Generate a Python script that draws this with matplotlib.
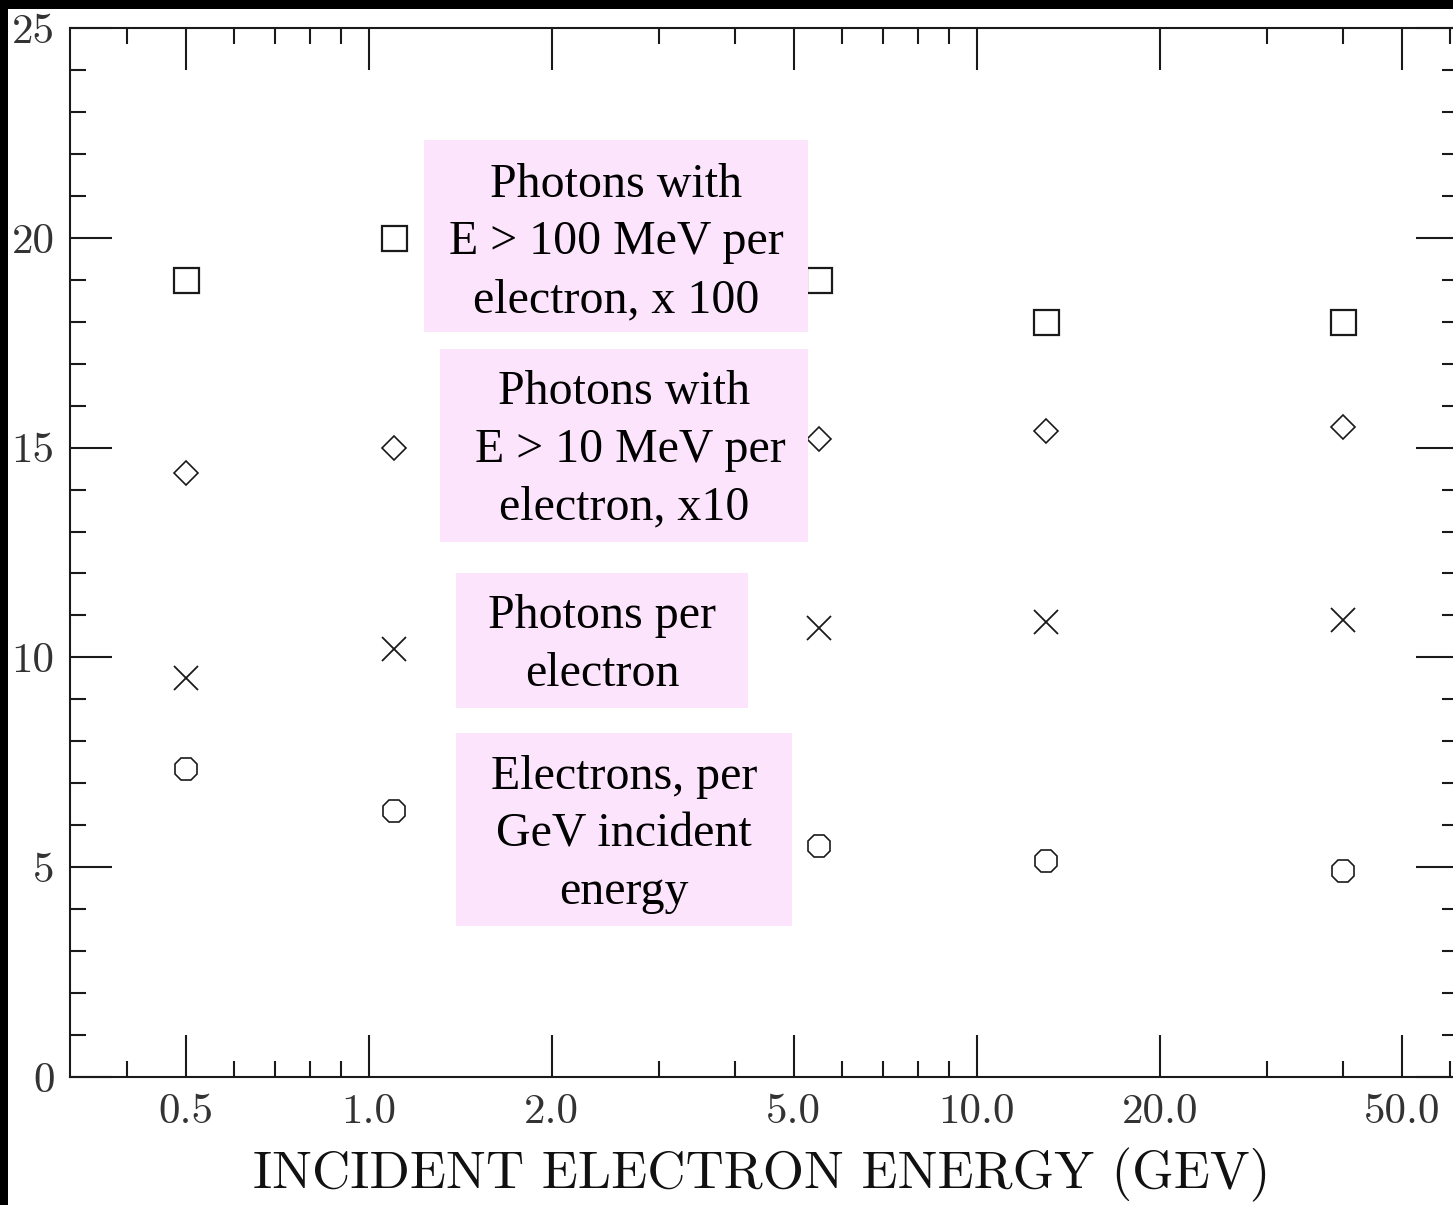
import matplotlib
matplotlib.use("Agg")
import matplotlib.pyplot as plt
from matplotlib.patches import Rectangle
from matplotlib.ticker import FixedLocator, FixedFormatter, NullFormatter

# shower yields vs incident electron energy
energy = [0.5, 1.1, 5.5, 13.0, 40.0]
photons_100mev = [19.0, 20.0, 19.0, 18.0, 18.0]   # x 100
photons_10mev = [14.4, 15.0, 15.2, 15.4, 15.5]    # x 10
photons = [9.5, 10.2, 10.7, 10.85, 10.9]
electrons = [7.35, 6.35, 5.5, 5.15, 4.9]

x_major = [0.5, 1.0, 2.0, 5.0, 10.0, 20.0, 50.0]
x_minor = [0.4, 0.6, 0.7, 0.8, 0.9, 3, 4, 6, 7, 8, 9, 30, 40, 60]
x_labels = ["0.5", "1.0", "2.0", "5.0", "10.0", "20.0", "50.0"]
y_major = [0, 5, 10, 15, 20, 25]

box_texts = [
    ["Photons with", "E > 100 MeV per", "electron, x 100"],
    ["Photons with", " E > 10 MeV per", "electron, x10"],
    ["Photons per", "electron"],
    ["Electrons, per", "GeV incident", "energy"],
]

W, H = 1453, 1205
fig = plt.figure(figsize=(W / 100, H / 100), dpi=100)
fig.patch.set_facecolor("black")


def fx(px):
    return px / W


def fy(py):
    return 1 - py / H


# white page inside the black frame
fig.patches.append(Rectangle((fx(8), 0), 1, fy(9), transform=fig.transFigure,
                             facecolor="white", edgecolor="none", zorder=-1))

ax = fig.add_axes([fx(70), fy(1077), fx(1458 - 70), (1077 - 28) / H])
ax.set_facecolor("white")
ax.set_xscale("log")
ax.set_xlim(0.3225, 61.9)
ax.set_ylim(0, 25)

mk = dict(linestyle="none", color="#1a1a1a", markerfacecolor="none", clip_on=False)
ax.plot(energy, photons_100mev, marker="s", markersize=18, markeredgewidth=1.6, **mk)
ax.plot(energy, photons_10mev, marker="D", markersize=12, markeredgewidth=1.2, **mk)
ax.plot(energy, photons, marker="x", markersize=17, markeredgewidth=1.3, **mk)
ax.plot(energy, electrons, marker="8", markersize=17.5, markeredgewidth=1.2, **mk)

ax.xaxis.set_major_locator(FixedLocator(x_major))
ax.xaxis.set_major_formatter(FixedFormatter(x_labels))
ax.xaxis.set_minor_locator(FixedLocator(x_minor))
ax.xaxis.set_minor_formatter(NullFormatter())
ax.yaxis.set_major_locator(FixedLocator(y_major))
ax.yaxis.set_minor_locator(FixedLocator(range(0, 26)))

for s in ax.spines.values():
    s.set_linewidth(1.5)
    s.set_color("#1a1a1a")

ax.tick_params(which="both", direction="in", top=True, right=True,
               color="#1a1a1a", width=1.5)
ax.tick_params(which="major", length=30)
ax.tick_params(which="minor", length=11.5)
ax.tick_params(axis="x", which="major", pad=12, labelsize=31, labelcolor="#333333")
ax.tick_params(axis="y", which="major", pad=11, labelsize=31, labelcolor="#333333")
for lab in ax.get_xticklabels() + ax.get_yticklabels():
    lab.set_fontfamily("cmr10")

fig.text(fx(762), fy(1188), "INCIDENT ELECTRON ENERGY (GEV)", family="cmr10",
         fontsize=38.2, ha="center", va="baseline", color="#111111")

# pink caption boxes: (left, top, right, bottom) in pixels, then line centre x and first baseline
boxes = [
    (424, 140, 808, 332, 616, 197),
    (440, 349, 808, 542, 624, 404),
    (456, 573, 748, 708, 602, 628),
    (456, 733, 792, 926, 624, 789),
]
for (l, t, r, b, cx, base), lines in zip(boxes, box_texts):
    fig.patches.append(Rectangle((fx(l), fy(b)), fx(r - l), (b - t) / H,
                                 transform=fig.transFigure, facecolor="#fce4fc",
                                 edgecolor="none", zorder=3))
    for i, line in enumerate(lines):
        fig.text(fx(cx), fy(base + 57.5 * i), line, family="Liberation Serif",
                 fontsize=34.5, ha="center", va="baseline", color="black", zorder=4)

fig.savefig("out.png", dpi=100, facecolor=fig.get_facecolor())
